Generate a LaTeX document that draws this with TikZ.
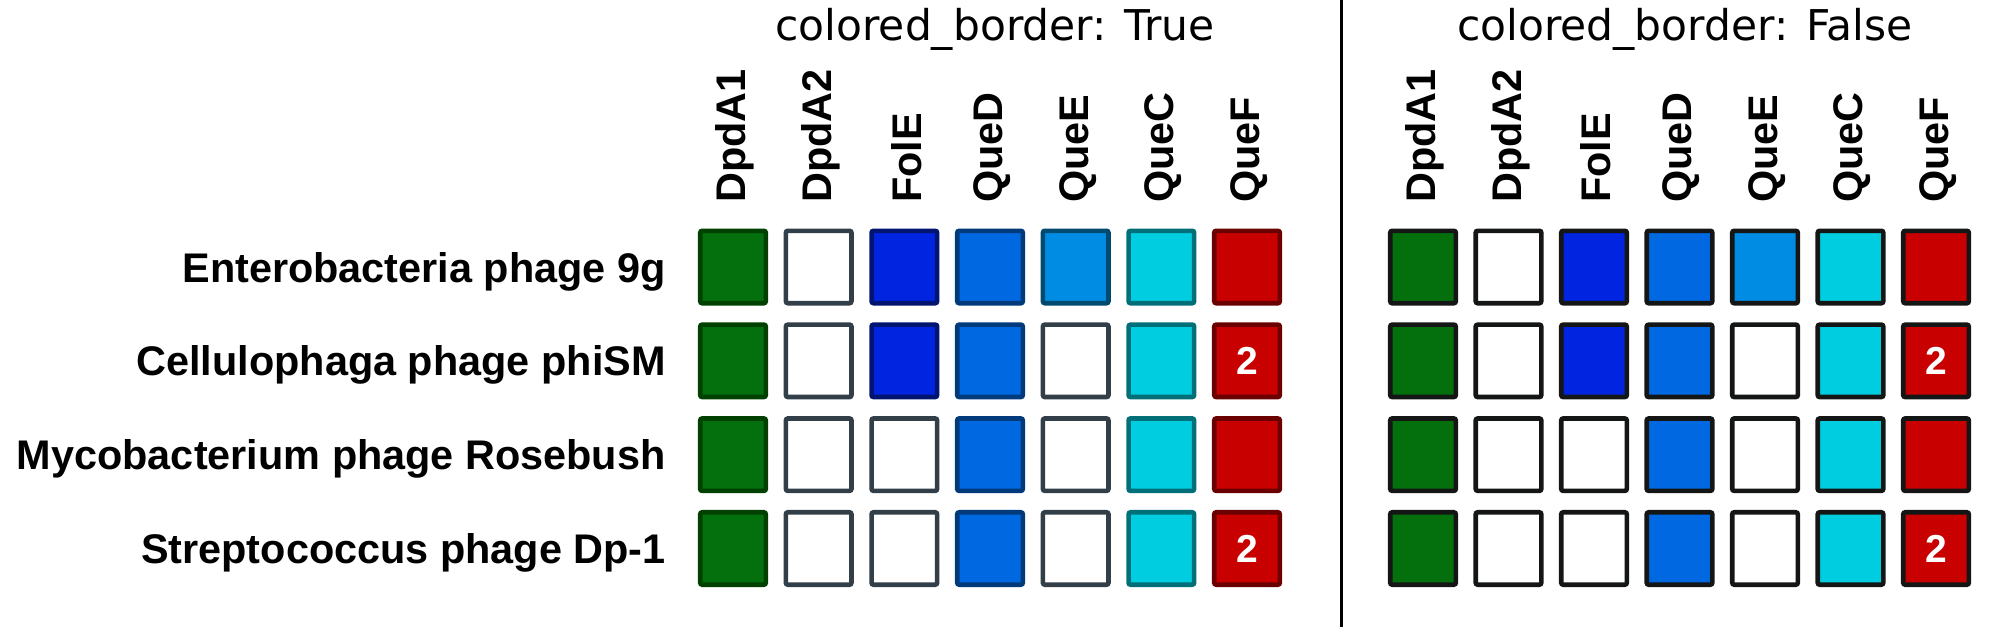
\documentclass[tikz,border=0pt]{standalone}
\usepackage{fontspec}
\setmainfont{Liberation Sans}
\newfontfamily\dejavu{DejaVu Sans}
\definecolor{cgreen}{RGB}{3,112,13}
\definecolor{bgreen}{RGB}{0,64,0}
\definecolor{bwhite}{RGB}{50,62,72}
\definecolor{cblueA}{RGB}{0,36,224}
\definecolor{bblueA}{RGB}{0,20,112}
\definecolor{cblueB}{RGB}{0,104,224}
\definecolor{bblueB}{RGB}{0,58,122}
\definecolor{cblueC}{RGB}{0,140,226}
\definecolor{bblueC}{RGB}{0,74,112}
\definecolor{ccyan}{RGB}{0,206,224}
\definecolor{bcyan}{RGB}{0,111,120}
\definecolor{cred}{RGB}{200,0,0}
\definecolor{bred}{RGB}{106,0,0}
\definecolor{bdark}{RGB}{20,22,22}
\begin{document}
\begin{tikzpicture}[x=0.5pt,y=-0.5pt,
  cell/.style={rectangle, minimum width=32.8pt, minimum height=36.2pt, inner sep=0pt, line width=2.3pt, rounded corners=1pt},
  tG/.style={fill=cgreen, draw=bgreen},
  tW/.style={fill=white, draw=bwhite},
  tBa/.style={fill=cblueA, draw=bblueA},
  tBb/.style={fill=cblueB, draw=bblueB},
  tBc/.style={fill=cblueC, draw=bblueC},
  tC/.style={fill=ccyan, draw=bcyan},
  tR/.style={fill=cred, draw=bred},
  tRt/.style={fill=cred, draw=bred, label={[twolbl]center:2}},
  twolbl/.style={text=white, font=\bfseries\fontsize{19.5pt}{22pt}\selectfont, inner sep=0pt},
  hdr/.style={rotate=90, anchor=west, inner sep=0pt, font=\bfseries\fontsize{20.7pt}{24pt}\selectfont},
  rowlbl/.style={anchor=base east, inner sep=0pt, font=\bfseries\fontsize{20.7pt}{24pt}\selectfont},
  ttl/.style={anchor=base, inner sep=0pt, font=\dejavu\fontsize{21.2pt}{25pt}\selectfont}
]
\useasboundingbox (0,0) rectangle (1996,627);

% titles
\node[ttl] (titleT) at (995,40) {colored\_border: True};
\node[ttl] (titleF) at (1685,40) {colored\_border: False};

% divider
\draw[line width=1.5pt] (1341,0) -- (1341,627);

% column headers
\foreach \h [count=\c] in {DpdA1,DpdA2,FolE,QueD,QueE,QueC,QueF} {
  \node[hdr] (HT-\c) at ({733+85.67*(\c-1)+2},203) {\h};
  \node[hdr] (HF-\c) at ({1423+85.5*(\c-1)+2},203) {\h};
}

% row labels
\node[rowlbl] (N-1) at (666,{267+15}) {Enterobacteria phage 9g};
\node[rowlbl] (N-2) at (666,{267+93.83+15}) {Cellulophaga phage phiSM};
\node[rowlbl] (N-3) at (666,{267+2*93.83+15}) {Mycobacterium phage Rosebush};
\node[rowlbl] (N-4) at (666,{267+3*93.83+15}) {Streptococcus phage Dp-1};

% cells
\foreach \types [count=\r] in {{tG,tW,tBa,tBb,tBc,tC,tR},{tG,tW,tBa,tBb,tW,tC,tRt},{tG,tW,tW,tBb,tW,tC,tR},{tG,tW,tW,tBb,tW,tC,tRt}} {
  \foreach \t [count=\c] in \types {
    \node[cell,\t] (T-\r-\c) at ({733+85.67*(\c-1)},{267+93.83*(\r-1)}) {};
    \node[cell,\t,draw=bdark] (F-\r-\c) at ({1423+85.5*(\c-1)},{267+93.83*(\r-1)}) {};
  }
}
\end{tikzpicture}
\end{document}
